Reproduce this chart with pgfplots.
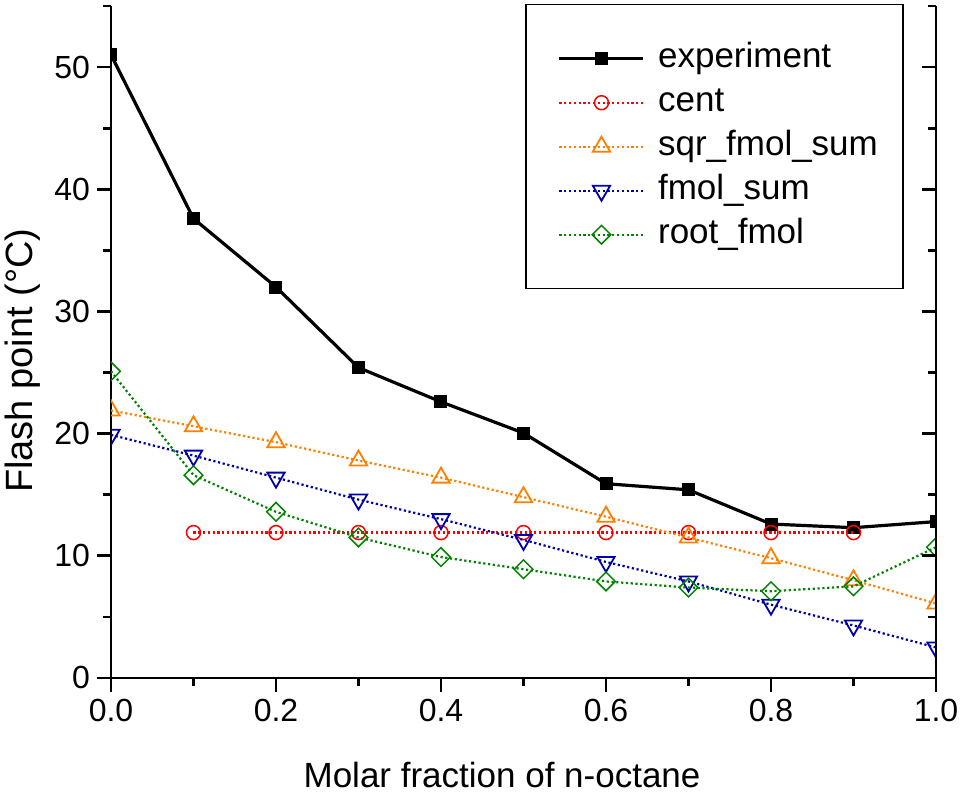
\documentclass[border=0pt]{standalone}
\usepackage{fontspec}
\setmainfont{Liberation Sans}
\usepackage{pgfplots}
\pgfplotsset{compat=1.18}
\usetikzlibrary{calc}
\definecolor{cred}{RGB}{255,0,0}
\definecolor{corange}{RGB}{255,128,0}
\definecolor{cblue}{RGB}{0,0,170}
\definecolor{cgreen}{RGB}{0,130,0}
\begin{document}
\begin{tikzpicture}
\pgfplotsset{
  dotline/.style={line width=1.1pt, dash pattern=on 1.1pt off 1.3pt},
}
\begin{axis}[
  name=main,
  scale only axis, width=412.5pt, height=336pt,
  xmin=0, xmax=1, ymin=0, ymax=55,
  axis x line*=bottom, axis y line*=left,
  axis line style={line width=1.35pt},
  xtick={0,0.2,0.4,0.6,0.8,1},
  xticklabels={0.0,0.2,0.4,0.6,0.8,1.0},
  minor xtick={0.1,0.3,0.5,0.7,0.9},
  ytick={0,10,20,30,40,50},
  minor ytick={5,15,25,35,45,55},
  tick align=outside,
  major tick length=7pt, minor tick length=4pt,
  tick style={black, line width=1.35pt},
  /pgf/number format/assume math mode=true,
  tick label style={font=\fontsize{16}{19}\selectfont},
  xlabel={Molar fraction of n-octane},
  ylabel={Flash point (°C)},
  every axis x label/.style={at={(axis description cs:0.474,0)}, yshift=-55pt, anchor=base, font=\fontsize{17.5}{21}\selectfont},
  every axis y label/.style={at={(axis description cs:0,0.472)}, xshift=-39pt, rotate=90, anchor=base, font=\fontsize{19}{23}\selectfont},
  clip marker paths=true,
  legend cell align=left,
  legend style={at={(rel axis cs:0.502,1.003)}, anchor=north west, draw=black, line width=0.75pt,
    inner xsep=10pt, inner ysep=16.5pt, row sep=1pt,
    font=\fontsize{17.5}{21}\selectfont,
    nodes={inner sep=2.5pt, text height=12.5pt, text depth=3.5pt}},
  legend image code/.code={\path (-6pt,0pt) (46pt,0pt);\draw[mark repeat=2,mark phase=2,#1] plot coordinates {(0pt,0pt) (21pt,0pt) (42pt,0pt)};},
]
\coordinate (SW) at (rel axis cs:0,0);
\coordinate (NE) at (rel axis cs:1,1);
\addplot[black, line width=1.6pt, mark=square*, mark size=3pt, mark options={solid, line width=0.5pt}]
coordinates {(0,51.0) (0.1,37.6) (0.2,32.0) (0.3,25.4) (0.4,22.6) (0.5,20.05) (0.6,15.9) (0.7,15.4) (0.8,12.6) (0.9,12.3) (1.0,12.8)};
\addlegendentry{experiment}
\addplot[cred, dotline, mark=o, mark size=3.5pt, mark options={solid, line width=0.75pt}]
coordinates {(0.1,11.9) (0.2,11.9) (0.3,11.9) (0.4,11.9) (0.5,11.9) (0.6,11.9) (0.7,11.9) (0.8,11.9) (0.9,11.9)};
\addlegendentry{cent}
\addplot[corange, dotline, mark=triangle, mark size=5pt, mark options={solid, line width=0.9pt}]
coordinates {(0,21.9) (0.1,20.6) (0.2,19.3) (0.3,17.8) (0.4,16.4) (0.5,14.8) (0.6,13.2) (0.7,11.5) (0.8,9.8) (0.9,8.0) (1.0,6.1)};
\addlegendentry{sqr\_fmol\_sum}
\addplot[cblue, dotline, mark=triangle, mark size=5pt, mark options={solid, line width=0.9pt, rotate=180}]
coordinates {(0,19.9) (0.1,18.2) (0.2,16.4) (0.3,14.6) (0.4,13.0) (0.5,11.3) (0.6,9.5) (0.7,7.9) (0.8,6.0) (0.9,4.3) (1.0,2.5)};
\addlegendentry{fmol\_sum}
\addplot[cgreen, dotline, mark=square, mark size=3.3pt, mark options={solid, line width=0.75pt, rotate=45}]
coordinates {(0,25.1) (0.1,16.6) (0.2,13.6) (0.3,11.5) (0.4,9.9) (0.5,8.9) (0.6,7.9) (0.7,7.4) (0.8,7.1) (0.9,7.5) (1.0,10.7)};
\addlegendentry{root\_fmol}
\end{axis}
\begin{axis}[
  at={(main.south west)}, anchor=south west,
  scale only axis, width=412.5pt, height=336pt,
  xmin=0, xmax=1, ymin=0, ymax=55,
  axis x line=none, axis y line*=right,
  axis line style={line width=1.35pt},
  ytick={0,10,20,30,40,50},
  minor ytick={5,15,25,35,45,55},
  yticklabels={},
  tick align=inside,
  major tick length=7pt, minor tick length=4pt,
  tick style={black, line width=1.35pt},
]
\addplot[draw=none] coordinates {(0,0)};
\end{axis}
\pgfresetboundingbox
\path[use as bounding box] ($(SW)+(-55.5pt,-60.5pt)$) rectangle ($(NE)+(12pt,3pt)$);
\end{tikzpicture}
\end{document}
